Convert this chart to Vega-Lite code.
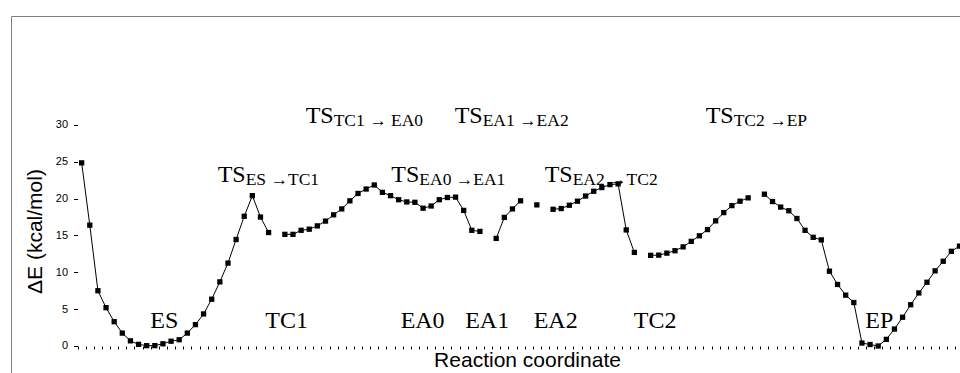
{
  "$schema": "https://vega.github.io/schema/vega-lite/v6.json",
  "autosize": {"type": "none"},
  "width": 951,
  "height": 358,
  "padding": {"left": 11, "top": 16, "right": 0, "bottom": 0},
  "background": "white",
  "config": {
    "view": {"stroke": "#808080", "strokeWidth": 1},
    "axis": {"labelFont": "Liberation Sans", "titleFont": "Liberation Sans", "titleFontWeight": "normal", "labelColor": "black", "titleColor": "black", "tickColor": "black", "grid": false}
  },
  "datasets": {
    "energy": [
      {"index": 0, "energy": 24.85, "seg": "A"}, {"index": 1, "energy": 16.4, "seg": "A"}, {"index": 2, "energy": 7.5, "seg": "A"}, {"index": 3, "energy": 5.2, "seg": "A"}, {"index": 4, "energy": 3.3, "seg": "A"}, {"index": 5, "energy": 1.75, "seg": "A"}, {"index": 6, "energy": 0.7, "seg": "A"}, {"index": 7, "energy": 0.22, "seg": "A"}, {"index": 8, "energy": 0.05, "seg": "A"}, {"index": 9, "energy": 0.05, "seg": "A"}, {"index": 10, "energy": 0.3, "seg": "A"}, {"index": 11, "energy": 0.65, "seg": "A"}, {"index": 12, "energy": 0.85, "seg": "A"}, {"index": 13, "energy": 1.75, "seg": "A"}, {"index": 14, "energy": 2.9, "seg": "A"}, {"index": 15, "energy": 4.35, "seg": "A"}, {"index": 16, "energy": 6.35, "seg": "A"}, {"index": 17, "energy": 8.7, "seg": "A"}, {"index": 18, "energy": 11.25, "seg": "A"}, {"index": 19, "energy": 14.45, "seg": "A"}, {"index": 20, "energy": 17.6, "seg": "A"}, {"index": 21, "energy": 20.4, "seg": "A"}, {"index": 22, "energy": 17.5, "seg": "A"}, {"index": 23, "energy": 15.4, "seg": "A"},
      {"index": 25, "energy": 15.15, "seg": "B"}, {"index": 26, "energy": 15.15, "seg": "B"}, {"index": 27, "energy": 15.7, "seg": "B"}, {"index": 28, "energy": 15.85, "seg": "B"}, {"index": 29, "energy": 16.3, "seg": "B"}, {"index": 30, "energy": 16.95, "seg": "B"}, {"index": 31, "energy": 17.8, "seg": "B"}, {"index": 32, "energy": 18.6, "seg": "B"}, {"index": 33, "energy": 19.7, "seg": "B"}, {"index": 34, "energy": 20.7, "seg": "B"}, {"index": 35, "energy": 21.3, "seg": "B"}, {"index": 36, "energy": 21.85, "seg": "B"}, {"index": 37, "energy": 20.85, "seg": "B"}, {"index": 38, "energy": 20.4, "seg": "B"}, {"index": 39, "energy": 19.85, "seg": "B"}, {"index": 40, "energy": 19.55, "seg": "B"}, {"index": 41, "energy": 19.5, "seg": "B"}, {"index": 42, "energy": 18.7, "seg": "B"}, {"index": 43, "energy": 19.0, "seg": "B"}, {"index": 44, "energy": 19.85, "seg": "B"}, {"index": 45, "energy": 20.15, "seg": "B"}, {"index": 46, "energy": 20.2, "seg": "B"}, {"index": 47, "energy": 18.4, "seg": "B"}, {"index": 48, "energy": 15.7, "seg": "B"}, {"index": 49, "energy": 15.55, "seg": "B"},
      {"index": 51, "energy": 14.6, "seg": "C"}, {"index": 52, "energy": 17.45, "seg": "C"}, {"index": 53, "energy": 18.6, "seg": "C"}, {"index": 54, "energy": 19.7, "seg": "C"},
      {"index": 56, "energy": 19.15, "seg": "D"},
      {"index": 58, "energy": 18.55, "seg": "E"}, {"index": 59, "energy": 18.65, "seg": "E"}, {"index": 60, "energy": 19.1, "seg": "E"}, {"index": 61, "energy": 19.65, "seg": "E"}, {"index": 62, "energy": 20.35, "seg": "E"}, {"index": 63, "energy": 21.0, "seg": "E"}, {"index": 64, "energy": 21.5, "seg": "E"}, {"index": 65, "energy": 21.9, "seg": "E"}, {"index": 66, "energy": 22.0, "seg": "E"}, {"index": 67, "energy": 15.75, "seg": "E"}, {"index": 68, "energy": 12.7, "seg": "E"},
      {"index": 70, "energy": 12.3, "seg": "F"}, {"index": 71, "energy": 12.33, "seg": "F"}, {"index": 72, "energy": 12.6, "seg": "F"}, {"index": 73, "energy": 12.93, "seg": "F"}, {"index": 74, "energy": 13.45, "seg": "F"}, {"index": 75, "energy": 14.2, "seg": "F"}, {"index": 76, "energy": 14.95, "seg": "F"}, {"index": 77, "energy": 15.8, "seg": "F"}, {"index": 78, "energy": 16.98, "seg": "F"}, {"index": 79, "energy": 18.1, "seg": "F"}, {"index": 80, "energy": 19.05, "seg": "F"}, {"index": 81, "energy": 19.65, "seg": "F"}, {"index": 82, "energy": 20.1, "seg": "F"},
      {"index": 84, "energy": 20.6, "seg": "G"}, {"index": 85, "energy": 19.6, "seg": "G"}, {"index": 86, "energy": 18.85, "seg": "G"}, {"index": 87, "energy": 18.35, "seg": "G"}, {"index": 88, "energy": 17.3, "seg": "G"}, {"index": 89, "energy": 15.7, "seg": "G"}, {"index": 90, "energy": 14.75, "seg": "G"}, {"index": 91, "energy": 14.4, "seg": "G"}, {"index": 92, "energy": 10.15, "seg": "G"}, {"index": 93, "energy": 8.35, "seg": "G"}, {"index": 94, "energy": 6.9, "seg": "G"}, {"index": 95, "energy": 5.9, "seg": "G"}, {"index": 96, "energy": 0.4, "seg": "G"}, {"index": 97, "energy": 0.2, "seg": "G"}, {"index": 98, "energy": 0.0, "seg": "G"}, {"index": 99, "energy": 0.9, "seg": "G"}, {"index": 100, "energy": 2.3, "seg": "G"}, {"index": 101, "energy": 3.9, "seg": "G"}, {"index": 102, "energy": 5.6, "seg": "G"}, {"index": 103, "energy": 7.2, "seg": "G"}, {"index": 104, "energy": 8.65, "seg": "G"}, {"index": 105, "energy": 10.2, "seg": "G"}, {"index": 106, "energy": 11.5, "seg": "G"}, {"index": 107, "energy": 12.85, "seg": "G"}, {"index": 108, "energy": 13.55, "seg": "G"}
    ],
    "states": [
      {"index": 10.17, "energy": 2.45, "label": "ES"},
      {"index": 25.22, "energy": 2.45, "label": "TC1"},
      {"index": 41.95, "energy": 2.45, "label": "EA0"},
      {"index": 49.89, "energy": 2.45, "label": "EA1"},
      {"index": 58.32, "energy": 2.45, "label": "EA2"},
      {"index": 70.56, "energy": 2.45, "label": "TC2"},
      {"index": 98.14, "energy": 2.45, "label": "EP"}
    ],
    "ts": [
      {"index": 27.56, "energy": 30.26, "main": "TS", "sub": "TC1 → EA0"},
      {"index": 45.89, "energy": 30.26, "main": "TS", "sub": "EA1 →EA2"},
      {"index": 76.77, "energy": 30.26, "main": "TS", "sub": "TC2 →EP"},
      {"index": 16.73, "energy": 22.25, "main": "TS", "sub": "ES →TC1"},
      {"index": 38.1, "energy": 22.25, "main": "TS", "sub": "EA0 →EA1"},
      {"index": 56.96, "energy": 22.25, "main": "TS", "sub": "EA2 →TC2"}
    ]
  },
  "encoding": {
    "x": {
      "field": "index", "type": "quantitative",
      "scale": {"domain": [-8.694, 108.31], "nice": false, "zero": false},
      "axis": {
        "orient": "bottom", "offset": -28, "domain": false, "labels": false, "tickSize": 3,
        "values": [-0.5,0.5,1.5,2.5,3.5,4.5,5.5,6.5,7.5,8.5,9.5,10.5,11.5,12.5,13.5,14.5,15.5,16.5,17.5,18.5,19.5,20.5,21.5,22.5,23.5,24.5,25.5,26.5,27.5,28.5,29.5,30.5,31.5,32.5,33.5,34.5,35.5,36.5,37.5,38.5,39.5,40.5,41.5,42.5,43.5,44.5,45.5,46.5,47.5,48.5,49.5,50.5,51.5,52.5,53.5,54.5,55.5,56.5,57.5,58.5,59.5,60.5,61.5,62.5,63.5,64.5,65.5,66.5,67.5,68.5,69.5,70.5,71.5,72.5,73.5,74.5,75.5,76.5,77.5,78.5,79.5,80.5,81.5,82.5,83.5,84.5,85.5,86.5,87.5,88.5,89.5,90.5,91.5,92.5,93.5,94.5,95.5,96.5,97.5,98.5,99.5,100.5,101.5,102.5,103.5,104.5,105.5,106.5,107.5],
        "title": "Reaction coordinate", "titleFontSize": 21, "titleX": 516, "titleY": 20, "titleAlign": "center", "titleBaseline": "alphabetic", "titleAnchor": null
      }
    },
    "y": {
      "field": "energy", "type": "quantitative",
      "scale": {"domain": [-3.8, 44.78], "nice": false, "zero": false},
      "axis": {
        "offset": -66.6, "domain": false, "values": [0, 5, 10, 15, 20, 25, 30], "tickSize": 4, "labelFontSize": 11, "labelPadding": 6,
        "title": "ΔE (kcal/mol)", "titleFontSize": 21, "titleX": -42, "titleY": 215, "titleAngle": 270, "titleAlign": "center", "titleBaseline": "middle"
      }
    }
  },
  "layer": [
    {
      "mark": {"type": "rule", "color": "black", "strokeWidth": 1},
      "encoding": {"x": {"datum": -0.5, "type": "quantitative"}, "y": {"datum": 0, "type": "quantitative"}, "y2": {"datum": 30}}
    },
    {
      "mark": {"type": "rule", "color": "black", "strokeWidth": 1},
      "encoding": {"x": {"datum": -0.5, "type": "quantitative"}, "x2": {"datum": 108.31}, "y": {"datum": 0, "type": "quantitative"}}
    },
    {
      "data": {"name": "energy"},
      "mark": {"type": "line", "color": "black", "strokeWidth": 1},
      "encoding": {"detail": {"field": "seg"}}
    },
    {
      "data": {"name": "energy"},
      "mark": {"type": "point", "shape": "square", "filled": true, "size": 28, "color": "black", "opacity": 1}
    },
    {
      "data": {"name": "states"},
      "mark": {"type": "text", "font": "Liberation Serif", "fontSize": 24, "align": "center", "baseline": "alphabetic", "color": "black"},
      "encoding": {"text": {"field": "label"}}
    },
    {
      "data": {"name": "ts"},
      "mark": {"type": "text", "font": "Liberation Serif", "fontSize": 24, "align": "left", "baseline": "alphabetic", "color": "black"},
      "encoding": {"text": {"field": "main"}}
    },
    {
      "data": {"name": "ts"},
      "mark": {"type": "text", "font": "Liberation Serif", "fontSize": 17.5, "align": "left", "baseline": "alphabetic", "dx": 28, "dy": 3, "color": "black"},
      "encoding": {"text": {"field": "sub"}}
    }
  ]
}
